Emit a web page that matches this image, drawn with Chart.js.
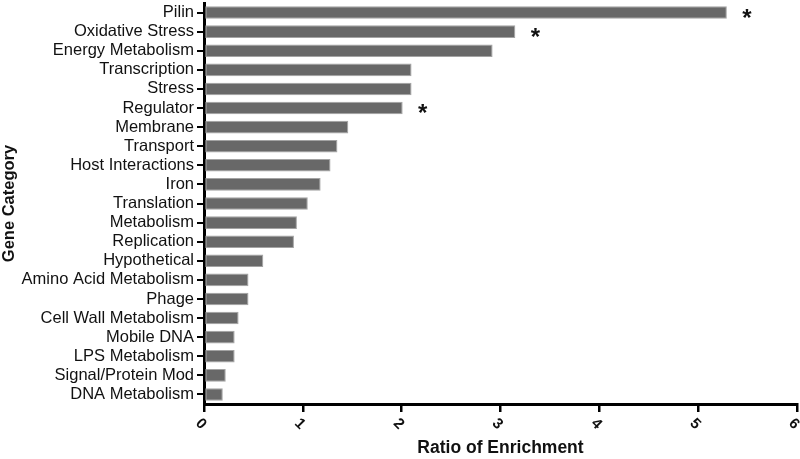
<!DOCTYPE html>
<html>
<head>
<meta charset="utf-8">
<title>Ratio of Enrichment by Gene Category</title>
<script src="https://cdn.jsdelivr.net/npm/chart.js"></script>
<style>
  html, body { margin: 0; padding: 0; background: #fff; }
  #chart { display: block; }
</style>
</head>
<body>
<canvas id="chart" width="800" height="459"></canvas>
<script>
const categories = [
  "Pilin", "Oxidative Stress", "Energy Metabolism", "Transcription", "Stress",
  "Regulator", "Membrane", "Transport", "Host Interactions", "Iron",
  "Translation", "Metabolism", "Replication", "Hypothetical",
  "Amino Acid Metabolism", "Phage", "Cell Wall Metabolism", "Mobile DNA",
  "LPS Metabolism", "Signal/Protein Mod", "DNA Metabolism"
];
const ratios = [
  5.29, 3.15, 2.92, 2.10, 2.10,
  2.01, 1.46, 1.35, 1.28, 1.18,
  1.05, 0.94, 0.91, 0.60,
  0.45, 0.45, 0.35, 0.31,
  0.31, 0.22, 0.19
];
// significance marks drawn after the bar
const marks = [
  "*", "*", "", "", "",
  "*", "", "", "", "",
  "", "", "", "",
  "", "", "", "",
  "", "", ""
];
const xTickLabels = ["0", "1", "2", "3", "4", "5", "6"];

const FONT = '"Liberation Sans", Arial, Helvetica, sans-serif';

// x tick labels are rotated clockwise, and the stars sit right of the bars
const extrasPlugin = {
  id: "extras",
  afterDraw(chart) {
    const { ctx } = chart;
    const xs = chart.scales.x;
    const ys = chart.scales.y;

    ctx.save();
    ctx.fillStyle = "#111";
    ctx.font = "bold 15px " + FONT;
    ctx.textAlign = "center";
    ctx.textBaseline = "middle";
    xs.ticks.forEach((t, i) => {
      const x = xs.getPixelForValue(t.value);
      ctx.save();
      ctx.translate(x - 3, xs.top + 20);
      ctx.rotate(Math.PI / 4);
      ctx.fillText(xTickLabels[i], 0, 0);
      ctx.restore();
    });

    ctx.font = "bold 24px " + FONT;
    ctx.textAlign = "center";
    ctx.textBaseline = "alphabetic";
    marks.forEach((m, i) => {
      if (!m) return;
      const x = xs.getPixelForValue(ratios[i]) + 20;
      const y = ys.getPixelForValue(i);
      ctx.fillText(m, x, y + 13);
    });
    ctx.restore();
  },
};

const ctx = document.getElementById("chart").getContext("2d");
new Chart(ctx, {
  type: "bar",
  data: {
    labels: categories,
    datasets: [
      {
        data: ratios,
        backgroundColor: "#686868",
        borderColor: "#a3a3a3",
        borderWidth: 1,
        borderSkipped: false,
        barPercentage: 0.66,
        categoryPercentage: 1,
      },
    ],
  },
  options: {
    indexAxis: "y",
    responsive: false,
    animation: false,
    layout: { padding: { top: 3, right: 3, left: 0, bottom: 0 } },
    plugins: {
      legend: { display: false },
      tooltip: { enabled: false },
    },
    scales: {
      x: {
        min: 0,
        max: 6,
        ticks: {
          stepSize: 1,
          color: "transparent",
          maxRotation: 0,
          callback: (v, i) => xTickLabels[i],
        },
        grid: {
          drawOnChartArea: false,
          color: "#000",
          lineWidth: 2.5,
          tickLength: 8,
        },
        border: { display: true, color: "#000", width: 3 },
        title: {
          display: true,
          text: "Ratio of Enrichment",
          color: "#111",
          font: { family: FONT, size: 17.5, weight: "bold" },
          padding: 0,
        },
        afterFit: (s) => {
          s.height = 55;
          s.paddingLeft = 0;
          s.paddingRight = 0;
        },
      },
      y: {
        ticks: {
          autoSkip: false,
          color: "#111",
          padding: 3,
          font: { family: FONT, size: 16.5 },
        },
        grid: {
          drawOnChartArea: false,
          offset: false,
          color: "#000",
          lineWidth: 2,
          tickLength: 7,
        },
        border: { display: true, color: "#000", width: 3 },
        title: {
          display: true,
          text: "Gene Category",
          color: "#111",
          font: { family: FONT, size: 16.5, weight: "bold" },
          padding: 0,
        },
        afterFit: (s) => {
          s.width = 204;
          s.paddingTop = 0;
          s.paddingBottom = 0;
        },
      },
    },
  },
  plugins: [extrasPlugin],
});
</script>
</body>
</html>
